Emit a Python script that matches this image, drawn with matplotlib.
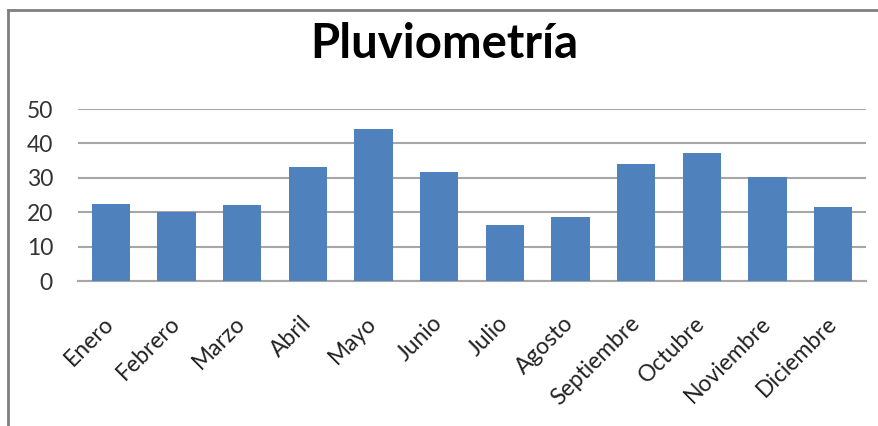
import matplotlib
matplotlib.use("Agg")
import matplotlib.pyplot as plt
from matplotlib.lines import Line2D

# Monthly rainfall (mm)
meses = ["Enero", "Febrero", "Marzo", "Abril", "Mayo", "Junio",
         "Julio", "Agosto", "Septiembre", "Octubre", "Noviembre", "Diciembre"]
lluvia = [22.5, 20.0, 22.0, 33.0, 44.3, 31.6, 16.4, 18.6, 34.0, 37.1, 30.1, 21.6]
y_ticks = [0, 10, 20, 30, 40, 50]

BAR_COLOR = "#4F81BD"
GRID_COLOR = "#A6A6A6"
FONT = ["Lato", "DejaVu Sans"]

W, H = 879, 426
fig = plt.figure(figsize=(W / 100, H / 100), dpi=100)
fig.patch.set_facecolor("white")

# plot area in pixel terms
left, right, top, bottom = 78, 866, 109, 281
ax = fig.add_axes([left / W, 1 - bottom / H, (right - left) / W, (bottom - top) / H])

x = range(len(meses))
ax.bar(x, lluvia, width=0.58, color=BAR_COLOR, zorder=3)

ax.set_xlim(-0.5, len(meses) - 0.5)
ax.set_ylim(0, 50)
ax.set_yticks(y_ticks)
ax.set_yticklabels([str(t) for t in y_ticks], fontsize=16.5, family=FONT, color="#333333")
ax.set_xticks(list(x))
ax.set_xticklabels(meses, rotation=45, ha="right", va="center", rotation_mode="anchor",
                   fontsize=16.5, family=FONT, color="#222222")
ax.tick_params(axis="both", length=0)
ax.tick_params(axis="y", pad=18)
ax.tick_params(axis="x", pad=28)

ax.grid(True, axis="y", color=GRID_COLOR, linewidth=1.5, zorder=0)
for side in ["top", "right", "left"]:
    ax.spines[side].set_visible(False)
ax.spines["bottom"].set_color(GRID_COLOR)
ax.spines["bottom"].set_linewidth(1.5)

fig.text(0.505, 1 - 44 / H, "Pluviometría",
         ha="center", va="center", fontsize=34, fontweight="bold", family=FONT)

# chart frame (only top and left edges fall inside the image)
fig.add_artist(Line2D([8 / W, 8 / W], [-0.05, 1 - 10 / H], transform=fig.transFigure,
                      color="#7F7F7F", linewidth=2))
fig.add_artist(Line2D([8 / W, 1.05], [1 - 10 / H, 1 - 10 / H], transform=fig.transFigure,
                      color="#7F7F7F", linewidth=2))

fig.savefig("out.png", dpi=100)
